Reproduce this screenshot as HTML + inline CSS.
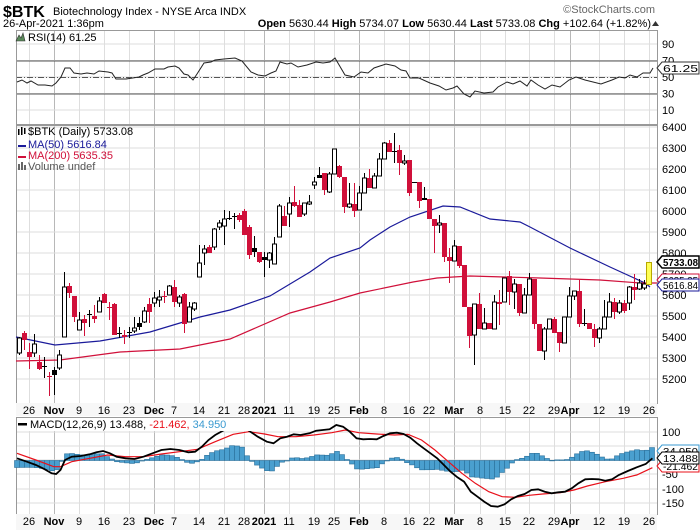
<!DOCTYPE html>
<html><head><meta charset="utf-8">
<style>
html,body{margin:0;padding:0;background:#fff;}
svg{display:block;font-family:"Liberation Sans",sans-serif;}
</style></head>
<body>
<svg id="s" width="700" height="530" viewBox="0 0 700 530" xmlns="http://www.w3.org/2000/svg"></svg>
<script>
var S=document.getElementById('s');var o='';
function L(x1,y1,x2,y2,c,w,d){o+='<line x1="'+x1+'" y1="'+y1+'" x2="'+x2+'" y2="'+y2+'" stroke="'+c+'" stroke-width="'+(w||1)+'"'+(d?' stroke-dasharray="'+d+'"':'')+'/>';}
function T(x,y,t,sz,fill,anchor,wt){o+='<text x="'+x+'" y="'+y+'" font-size="'+sz+'" fill="'+(fill||'#000')+'"'+(anchor?' text-anchor="'+anchor+'"':'')+(wt?' font-weight="bold"':'')+'>'+t+'</text>';}
function P(pts,c,w){o+='<polyline fill="none" stroke="'+c+'" stroke-width="'+(w||1)+'" points="'+pts.map(function(p){return p.join(',')}).join(' ')+'"/>';}
var X0=16,X1=657;
var dates=[[29,'26'],[54,'Nov',1],[79,'9'],[104,'16'],[129,'23'],[154,'Dec',1],[174,'7'],[199,'14'],[224,'21'],[244,'28'],[264,'2021',1],[289,'11'],[314,'19'],[334,'25'],[359,'Feb',1],[384,'8'],[409,'16'],[429,'22'],[454,'Mar',1],[480,'8'],[505,'15'],[529,'22'],[554,'29'],[570,'Apr',1],[599,'12'],[624,'19'],[649,'26']];
var panels=[[30,124],[125,403],[417,514]];
panels.forEach(function(p){dates.forEach(function(d){L(d[0]+.5,p[0],d[0]+.5,p[1],d[2]?'#b8b8b8':'#dedede',1);});});
[90,70,50,30,10].forEach(function(v){var y=77-(v-50)*0.825;L(X0,y,X1,y,'#dedede');T(662,y+4,v,11,'#000');});
L(X0,61,X1,61,'#555');L(X0,94,X1,94,'#555');L(X0,77.5,X1,77.5,'#555',1,'6,2,1,2');
for(var p=6400;p>=5200;p-=100){var y=127+(6400-p)*0.21;L(X0,y,X1,y,'#dedede');T(662,y+4,p,11,'#000');}
[[100,432],[50,446],[0,460],[-50,474],[-100,489],[-150,503]].forEach(function(a){L(X0,a[1],X1,a[1],'#dedede');if(a[0]!=50&&a[0]!=0)T(662,a[1]+4,a[0],11,'#000');});
panels.forEach(function(p){o+='<rect x="'+X0+'.5" y="'+p[0]+'.5" width="'+(X1-X0)+'" height="'+(p[1]-p[0])+'" fill="none" stroke="#999"/>';});
[[403,416],[514,530]].forEach(function(r){o+='<rect x="'+X0+'" y="'+r[0]+'" width="'+(X1-X0)+'" height="'+(r[1]-r[0])+'" fill="#f7f7f7"/>';dates.forEach(function(d){T(d[0],r[0]+11,d[1],11,'#000','middle',d[2]);});});
P([[16,337],[55,345],[100,341],[150,332],[200,317],[230,310],[270,296],[310,272],[330,258],[360,248],[370,240],[390,227],[410,217],[443,206],[460,207],[490,219],[520,222],[530,227],[570,248],[610,267],[645,283],[650,287]],'#1a1a9a',1.2);
P([[16,361],[60,360],[120,352],[180,349],[230,339],[290,313],[330,302],[360,293],[413,282],[437,278],[470,276],[540,278],[600,280],[640,283],[657,283]],'#d0103a',1.2);
var C=[['h',338,353,337,355],['r',333,340,331,350],['r',352,357,343,369],['h',344,353,334,357],['r',362,369,355,370],['k',366,367,357,378],['r',376,377,372,396],['k',370,375,367,395],['h',355,368,350,370],['h',287,337,272,337],['r',286,293,283,298],['r',296,317,296,322],['h',320,330,312,330],['r',319,323,315,336],['k',314,315,310,327],['r',316,319,305,323],['h',301,312,297,312],['r',294,303,293,303],['r',307,308,302,320],['r',304,335,303,335],['k',333,334,327,338],['r',335,337,330,344],['k',332,333,327,338],['h',328,331,317,333],['k',323,327,317,330],['h',311,322,307,323],['r',304,312,298,323],['h',298,303,292,307],['h',297,300,290,307],['r',296,297,291,303],['h',286,295,285,295],['r',287,302,280,307],['h',297,303,295,307],['r',294,324,293,333],['h',307,322,302,322],['h',303,309,302,311],['h',263,277,245,277],['h',249,253,245,265],['r',247,253,245,253],['h',229,247,228,250],['h',223,227,220,230],['h',219,226,210,245],['k',218,219,211,220],['k',216,217,213,229],['r',215,220,213,222],
['r',211,235,209,235],['r',227,255,225,259],['k',248,252,236,257],['r',252,262,252,263],['k',257,260,252,277],['h',253,260,252,268],['h',244,264,237,264],['h',206,237,204,237],['r',216,226,206,226],['h',203,214,197,227],['r',202,206,186,207],['r',205,217,200,217],['h',203,214,203,216],['h',202,204,195,205],['h',182,185,177,189],['k',175,178,167,178],['r',173,190,173,195],['h',174,192,172,193],['h',149,174,149,174],['r',166,177,165,178],['r',177,207,177,213],['h',204,207,183,208],['r',204,211,183,217],['h',193,210,186,210],['h',178,193,173,193],['r',178,188,169,188],['h',176,188,173,188],['h',159,176,153,176],['h',143,159,142,159],['r',143,152,140,152],['k',151,152,133,163],['r',150,163,145,175],['h',161,163,155,165],['r',160,193,160,196],['k',182,183,182,183],['r',182,201,182,208],['k',198,200,187,200],['r',199,219,199,219],['r',219,226,219,253],['h',223,225,215,233],['r',223,257,223,262],['r',257,261,248,283],['h',246,261,240,261],['r',246,266,246,268],['r',265,307,265,307],['r',307,336,307,348],
['h',304,335,304,365],['r',304,329,293,329],['h',323,329,308,329],['r',323,329,323,329],['h',302,329,295,329],['r',302,304,290,325],['h',278,302,278,302],['r',276,292,271,305],['h',284,292,279,309],['r',284,313,284,316],['h',295,313,288,313],['h',279,295,273,295],['r',279,324,279,329],['r',324,351,324,351],['h',329,351,327,360],['h',319,329,319,329],['r',319,333,317,333],['r',332,343,332,352],['h',317,343,317,343],['h',296,317,287,317],['h',291,296,291,300],['r',291,324,280,327],['k',323,324,309,326],['r',323,329,323,329],['r',329,338,324,347],['h',329,338,327,343],['h',317,329,300,329],['h',302,317,293,317],['r',302,312,298,319],['h',303,312,300,314],['r',303,311,300,313],['h',287,303,286,310],['r',287,290,274,300],['h',283,289,279,290],['h',284,288,280,290]];
C.forEach(function(c,i){var x=19+5*i;var col=c[0]=='r'?'#d0103a':'#000';L(x+.5,c[3],x+.5,c[4],col);
var h=Math.max(1,c[2]-c[1]);
if(c[0]=='h')o+='<rect x="'+(x-1.5)+'" y="'+c[1]+'" width="4" height="'+h+'" fill="#fff" stroke="#000"/>';
else o+='<rect x="'+(x-2)+'" y="'+c[1]+'" width="5" height="'+h+'" fill="'+col+'"/>';});
o+='<rect x="646.5" y="262.5" width="5" height="22" fill="#ffff55" stroke="#b8a800"/>';
P([[17,82],[22,80],[27,83],[31,81],[38,85],[45,85],[52,86],[56,83],[61,77],[65,68],[70,68],[74,73],[81,74],[87,73],[94,74],[99,71],[108,72],[112,73],[116,79],[126,79],[139,77],[143,75],[148,73],[155,69],[164,69],[168,67],[175,66],[179,68],[184,74],[188,75],[193,80],[197,74],[204,63],[211,62],[215,60],[224,59],[235,58],[242,61],[251,72],[258,75],[265,76],[271,73],[276,71],[280,62],[287,64],[291,63],[298,67],[307,65],[316,62],[323,63],[330,62],[335,58],[345,75],[354,77],[361,72],[368,73],[374,68],[386,64],[395,66],[401,70],[406,71],[410,78],[419,78],[430,83],[439,86],[446,90],[453,88],[457,86],[464,94],[470,97],[475,91],[484,93],[493,92],[498,87],[507,82],[513,84],[520,81],[527,86],[531,80],[538,85],[545,89],[552,85],[560,87],[569,80],[576,77],[585,80],[601,84],[612,80],[619,77],[625,78],[630,75],[637,77],[643,73],[650,73],[653,68]],'#222',1);
var k=0.4484;
function mp(a){return a.map(function(p){return [+(p[0]*k).toFixed(1),+(390+p[1]/3).toFixed(1)];});}
var blk=mp([[38,205],[60,215],[80,225],[100,238],[115,250],[125,252],[135,240],[145,210],[160,200],[180,198],[200,193],[215,187],[230,183],[245,190],[260,200],[280,205],[300,207],[320,200],[340,190],[360,180],[380,177],[400,180],[420,187],[435,185],[450,170],[465,150],[480,135],[500,120],[520,100],[540,100],[555,122],[575,140],[595,155],[610,160],[625,145],[640,140],[655,133],[670,135],[690,130],[705,122],[720,120],[735,118],[750,105],[765,110],[780,125],[795,145],[810,148],[825,147],[840,148],[855,138],[870,130],[885,128],[900,132],[915,143],[930,160],[945,175],[960,190],[975,205],[990,225],[1005,245],[1020,262],[1035,275],[1050,305],[1065,320],[1080,335],[1095,348],[1110,350],[1125,343],[1140,328],[1155,318],[1170,312],[1185,300],[1200,298],[1215,305],[1230,310],[1245,307],[1260,305],[1275,295],[1290,280],[1305,268],[1320,267],[1335,268],[1350,272],[1365,268],[1380,255],[1400,243],[1420,232],[1440,222],[1455,205]]);
var red=mp([[38,190],[80,210],[120,230],[135,230],[160,215],[200,205],[240,195],[280,200],[320,200],[360,192],[400,185],[440,178],[480,155],[520,133],[555,125],[590,132],[620,140],[660,140],[700,135],[740,128],[770,120],[800,128],[840,132],[880,135],[910,133],[940,150],[970,180],[1000,215],[1030,250],[1060,280],[1090,305],[1120,320],[1150,322],[1180,316],[1210,312],[1250,308],[1280,300],[1310,288],[1350,275],[1390,265],[1420,255],[1455,233]]);
function it(a,x){for(var i=1;i<a.length;i++){if(a[i][0]>=x){var t=(x-a[i-1][0])/(a[i][0]-a[i-1][0]);return a[i-1][1]+t*(a[i][1]-a[i-1][1]);}}return a[a.length-1][1];}
var Z=460.5;
for(var x=17;x<=654;x+=5){var d=(it(blk,x)-it(red,x))*1.4;var y=Z+d;o+='<rect x="'+(x-2.5)+'" y="'+Math.min(Z,y)+'" width="5" height="'+Math.max(.5,Math.abs(d))+'" fill="#4a9fcf" stroke="#2a6f99" stroke-width="0.6"/>';}
P(red,'#e8101a',1.2);P(blk,'#000',1.8);
o+='<rect x="17" y="418" width="240" height="13" fill="#fff"/>';
o+='<rect x="18" y="423" width="9" height="2.5" fill="#000"/>';
o+='<text x="30" y="428" font-size="11"><tspan fill="#000">MACD(12,26,9) 13.488, </tspan><tspan fill="#e8101a">-21.462, </tspan><tspan fill="#3a9ad0">34.950</tspan></text>';
T(28,135,'$BTK (Daily) 5733.08',11,'#000');
o+='<rect x="18" y="129" width="1.5" height="6" fill="#000"/><rect x="21" y="127" width="1.5" height="8" fill="#000"/><rect x="24" y="128" width="1.5" height="6" fill="#000"/>';
o+='<rect x="18" y="145" width="8" height="2" fill="#1a1a9a"/>';T(28,148,'MA(50) 5616.84',11,'#1a1a9a');
o+='<rect x="18" y="156" width="8" height="2" fill="#d0103a"/>';T(28,159,'MA(200) 5635.35',11,'#d0103a');
o+='<rect x="18" y="164" width="2" height="6" fill="#666"/><rect x="21" y="162" width="2" height="8" fill="#666"/><rect x="24" y="165" width="2" height="5" fill="#666"/>';T(28,170,'Volume undef',11,'#555');
o+='<path d="M16,41 L19,35 L21,38 L23,33 L25,41 Z" fill="#5a8a5a" stroke="#333" stroke-width=".6"/>';T(28,41,'RSI(14) 61.25',11,'#000');
function tag(y,t,c,b){o+='<path d="M657,'+y+' L662,'+(y-6)+' L699,'+(y-6)+' L699,'+(y+6)+' L662,'+(y+6)+' Z" fill="#fff" stroke="'+c+'"'+(b?' stroke-width="1.5"':'')+'/>';o+='<text x="663" y="'+(y+4)+'" font-size="10.5" textLength="35" lengthAdjust="spacingAndGlyphs"'+(b?' font-weight="bold"':'')+'>'+t+'</text>';}
tag(68,'61.25','#333');
tag(280,'5635.35','#d0103a');tag(285,'5616.84','#1a1a9a');tag(262,'5733.08','#000',1);
tag(451,'34.950','#3a9ad0');tag(466,'-21.462','#e8101a');tag(458,'13.488','#000');
T(3,17,'$BTK',16,'#000',null,1);
T(53,15,'Biotechnology Index - NYSE Arca  INDX',11,'#000');
T(655,13,'©StockCharts.com',11,'#666','end');
T(3,27,'26-Apr-2021 1:36pm',11,'#000');
o+='<text x="651" y="27" font-size="11" text-anchor="end"><tspan font-weight="bold">Open</tspan> 5630.44 <tspan font-weight="bold">High</tspan> 5734.07 <tspan font-weight="bold">Low</tspan> 5630.44 <tspan font-weight="bold">Last</tspan> 5733.08 <tspan font-weight="bold">Chg</tspan> +102.64 (+1.82%)</text>';
o+='<path d="M652,26 L655.5,21 L659,26 Z" fill="#333"/>';
S.innerHTML=o;
</script>
</body></html>
